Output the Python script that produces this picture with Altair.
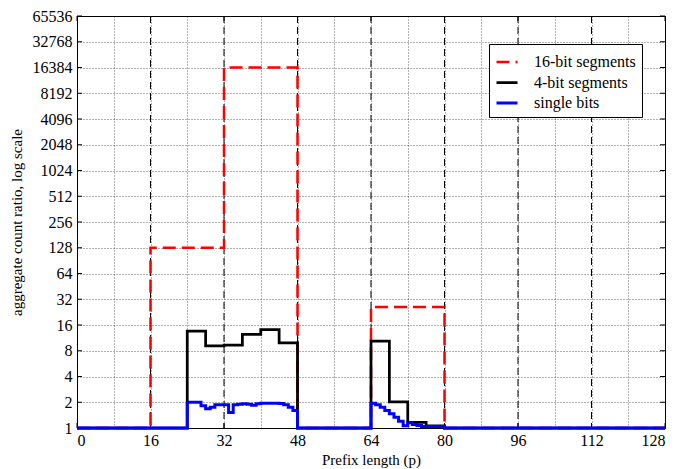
import altair as alt
import pandas as pd

# ---- data ----
red_x = [0, 16, 32, 48, 64, 80, 128]
red_y = [1, 128, 16384, 1, 26, 1, 1]

black_x = [0, 24, 28, 32, 36, 40, 44, 48, 64, 68, 72, 76, 80, 128]
black_y = [1, 13.6, 9.1, 9.3, 12.4, 14.1, 9.9, 1, 10.4, 2.02, 1.16, 1.06, 1, 1]

blue_x = [0, 24, 25, 26, 27, 28, 29, 30, 31, 32, 33, 34, 35, 36, 37, 38, 39,
          40, 41, 42, 43, 44, 45, 46, 47, 48,
          64, 65, 66, 67, 68, 69, 70, 71, 72, 73, 74, 75, 76, 77, 78, 79, 80, 128]
blue_y = [1, 2.0, 2.0, 2.0, 1.82, 1.68, 1.75, 1.87, 1.87, 1.87, 1.52, 1.87, 1.9,
          1.92, 1.9, 1.85, 1.92, 1.95, 1.95, 1.95, 1.95, 1.94, 1.87, 1.75, 1.6, 1,
          1.95, 1.87, 1.75, 1.6, 1.47, 1.34, 1.2, 1.06, 1.15, 1.1, 1.07, 1.04,
          1.04, 1.04, 1.04, 1.04, 1, 1]

series_names = ["16-bit segments", "4-bit segments", "single bits"]
series_colors = ["#ff0000", "#000000", "#0000ff"]

x_grid = [0, 8, 16, 24, 32, 40, 48, 56, 64, 72, 80, 88, 96, 104, 112, 120, 128]
x_labels = [0, 16, 32, 48, 64, 80, 96, 112, 128]
dashed_x = [16, 32, 48, 64, 80, 96, 112]
y_ticks = [1, 2, 4, 8, 16, 32, 64, 128, 256, 512, 1024, 2048, 4096, 8192,
           16384, 32768, 65536]

W, H = 588, 412
FONT = "Liberation Serif"

xscale = alt.Scale(domain=[0, 128], nice=False, zero=False)
yscale = alt.Scale(type="log", base=2, domain=[1, 65536], nice=False)

xaxis = alt.Axis(values=x_grid, title="Prefix length (p)",
                 labelExpr="datum.value % 16 == 0 ? datum.value : ''",
                 grid=True, gridDash=[1, 2], gridColor="#000", gridOpacity=0.6,
                 domain=False, ticks=False, labelPadding=4,
                 labelFont=FONT, labelFontSize=16, labelColor="#000",
                 titleFont=FONT, titleFontSize=15, titleFontWeight="normal",
                 titleColor="#000", titlePadding=4)
yaxis = alt.Axis(values=y_ticks, title="aggregate count ratio, log scale",
                 format="d", grid=True, gridDash=[1, 2], gridColor="#000",
                 gridOpacity=0.6, domain=False, ticks=False, labelPadding=5,
                 labelFont=FONT, labelFontSize=16, labelColor="#000",
                 titleFont=FONT, titleFontSize=15, titleFontWeight="normal",
                 titleColor="#000", titlePadding=8)

color_scale = alt.Scale(domain=series_names, range=series_colors)
dash_scale = alt.Scale(domain=series_names, range=[[13, 6], [1, 0], [1, 0]])
width_scale = alt.Scale(domain=series_names, range=[2.5, 3, 2.5])

legend = alt.Legend(title=None, orient="none", legendX=412, legendY=28,
                    fillColor="white", strokeColor="#000", padding=6,
                    symbolType="stroke", symbolSize=441, symbolStrokeWidth=3,
                    labelFont=FONT, labelFontSize=16, labelColor="#000",
                    labelOffset=15, rowPadding=0.5, cornerRadius=0)

grid_df = pd.DataFrame({"x": dashed_x})
vrules = alt.Chart(grid_df).mark_rule(color="#000", strokeWidth=1,
                                      strokeDash=[7, 4]).encode(
    x=alt.X("x:Q", scale=xscale, axis=xaxis))


def series(xs, ys, name):
    df = pd.DataFrame({"p": xs, "v": ys, "s": [name] * len(xs)})
    return alt.Chart(df).mark_line(interpolate="step-after", clip=False).encode(
        x=alt.X("p:Q", scale=xscale, axis=xaxis),
        y=alt.Y("v:Q", scale=yscale, axis=yaxis),
        color=alt.Color("s:N", scale=color_scale, legend=legend),
        strokeDash=alt.StrokeDash("s:N", scale=dash_scale, legend=legend),
        strokeWidth=alt.StrokeWidth("s:N", scale=width_scale, legend=None),
    )


red = series(red_x, red_y, series_names[0])
black = series(black_x, black_y, series_names[1])
blue = series(blue_x, blue_y, series_names[2])

# inside tick marks
xt = pd.DataFrame({"x": x_labels})
yt = pd.DataFrame({"y": y_ticks})
tick_b = alt.Chart(xt).mark_rule(color="#000").encode(
    x=alt.X("x:Q", scale=xscale, axis=xaxis), y=alt.value(H), y2=alt.value(H - 5))
tick_t = alt.Chart(xt).mark_rule(color="#000").encode(
    x=alt.X("x:Q", scale=xscale, axis=xaxis), y=alt.value(0), y2=alt.value(5))
tick_l = alt.Chart(yt).mark_rule(color="#000").encode(
    y=alt.Y("y:Q", scale=yscale, axis=yaxis), x=alt.value(0), x2=alt.value(5))
tick_r = alt.Chart(yt).mark_rule(color="#000").encode(
    y=alt.Y("y:Q", scale=yscale, axis=yaxis), x=alt.value(W), x2=alt.value(W - 5))

chart = alt.layer(vrules, tick_b, tick_t, tick_l, tick_r, red, black, blue).properties(
    width=W, height=H,
    autosize=alt.AutoSizeParams(type="none"),
    padding={"left": 77, "top": 16, "right": 27, "bottom": 41},
    background="white",
).configure(font=FONT).configure_axis(
    labelFont=FONT, titleFont=FONT
).configure_legend(labelFont=FONT).configure_view(stroke="#000", strokeWidth=1)

chart.save("out.html", embed_options={"renderer": "svg", "actions": False})
